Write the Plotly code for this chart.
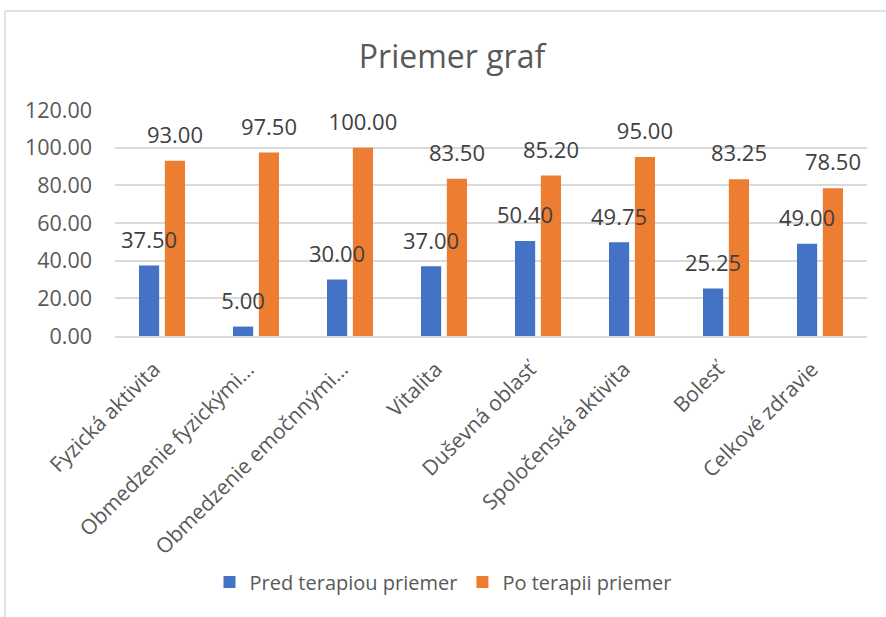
import plotly.graph_objects as go

categories = ["Fyzická aktivita", "Obmedzenie fyzickými…", "Obmedzenie emočnnými…",
              "Vitalita", "Duševná oblasť", "Spoločenská aktivita", "Bolesť", "Celkové zdravie"]
pred = [37.50, 5.00, 30.00, 37.00, 50.40, 49.75, 25.25, 49.00]
po = [93.00, 97.50, 100.00, 83.50, 85.20, 95.00, 83.25, 78.50]
series_names = ["Pred terapiou priemer", "Po terapii priemer"]
y_ticks = [0, 20, 40, 60, 80, 100, 120]

FONT = "Open Sans"
W, H = 886, 617
ML, MR, MT, MB = 115, 19, 110, 281
pw, ph = W - ML - MR, H - MT - MB

def px2x(px):
    return (px - ML) / pw

def py2y(py):
    return (H - MB - py) / ph

series = [(series_names[0], pred, "#4472C4", "g1"), (series_names[1], po, "#ED7D31", "g2")]

fig = go.Figure()
for name, vals, color, grp in series:
    fig.add_trace(go.Bar(
        x=categories, y=vals, name=name, offsetgroup=grp,
        marker=dict(color=color, line=dict(width=0)),
    ))
# data labels on top of all bars
for name, vals, color, grp in series:
    fig.add_trace(go.Scatter(
        x=categories, y=vals, offsetgroup=grp, mode="markers+text", showlegend=False,
        marker=dict(size=18, opacity=0, color=color),
        text=[f"{v:.2f}" for v in vals], textposition="top center", cliponaxis=False,
        textfont=dict(family=FONT, size=22, color="#404040"), hoverinfo="skip",
    ))

fig.update_layout(
    width=W, height=H,
    margin=dict(l=ML, r=MR, t=MT, b=MB, autoexpand=False),
    paper_bgcolor="white", plot_bgcolor="white",
    barmode="group", bargap=0.45, bargroupgap=0.22,
    scattermode="group", scattergap=0.45,
    title=dict(text="Priemer graf", x=452 / W, xanchor="center", y=1 - 57 / H, yanchor="middle",
               yref="container", font=dict(family=FONT, size=32, color="#595959")),
    font=dict(family=FONT, color="#595959"),
    yaxis=dict(range=[0, 120], tickvals=y_ticks, tickformat=".2f", automargin=False,
               showgrid=True, gridcolor="#D9D9D9", gridwidth=1.5,
               zeroline=False, showline=False, ticks="", ticklabelstandoff=22,
               tickfont=dict(family=FONT, size=21.5, color="#595959")),
    xaxis=dict(tickangle=-45, showline=True, linecolor="#D9D9D9", linewidth=1.5, automargin=False,
               ticks="", ticklabelstandoff=11, ticklabelshift=-8,
               tickfont=dict(family=FONT, size=21, color="#595959")),
    legend=dict(orientation="h", x=px2x(443), xanchor="center", y=py2y(582), yanchor="middle",
                font=dict(family=FONT, size=20, color="#595959"), itemwidth=30,
                bgcolor="rgba(0,0,0,0)"),
    showlegend=True,
)

# chart border (cropped box: top and left edges visible)
fig.add_shape(type="line", xref="paper", yref="paper",
              x0=px2x(5), x1=px2x(W + 5), y0=py2y(11), y1=py2y(11),
              line=dict(color="#D9D9D9", width=1.5))
fig.add_shape(type="line", xref="paper", yref="paper",
              x0=px2x(5), x1=px2x(5), y0=py2y(11), y1=py2y(H + 5),
              line=dict(color="#D9D9D9", width=1.5))

fig.write_html("out.html", config={"displayModeBar": False},
               post_script="document.body.style.margin='0';document.body.style.overflow='hidden';")
